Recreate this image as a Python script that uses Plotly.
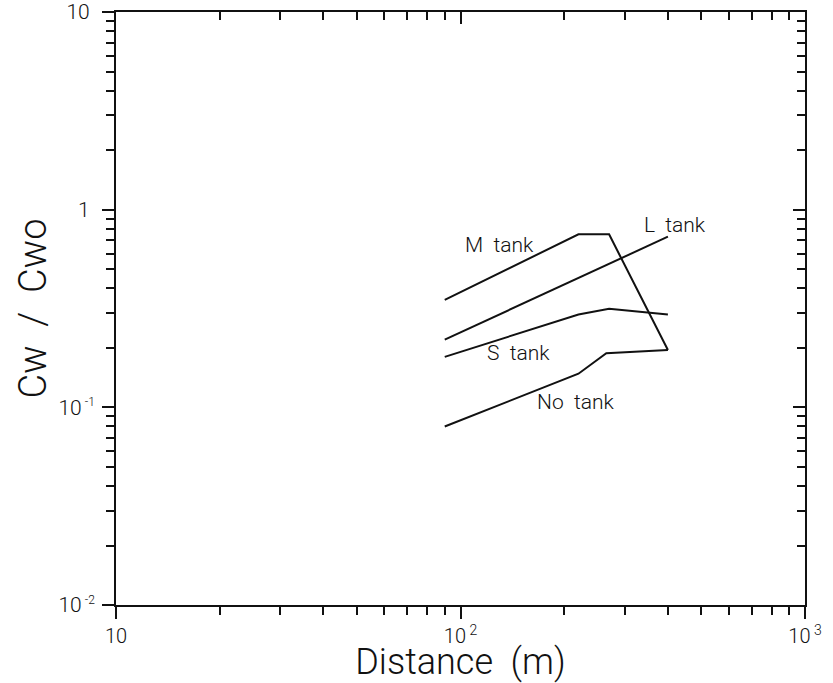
import math
import plotly.graph_objects as go

# Data (distance in m, Cw/Cwo)
m_x = [90, 220, 270, 400]
m_y = [0.35, 0.75, 0.75, 0.195]
l_x = [90, 400]
l_y = [0.22, 0.73]
s_x = [90, 220, 270, 400]
s_y = [0.18, 0.295, 0.315, 0.295]
n_x = [90, 220, 265, 400]
n_y = [0.08, 0.148, 0.188, 0.195]

labels = ["M\u00a0\u00a0tank", "L\u00a0\u00a0tank", "S\u00a0\u00a0tank", "No\u00a0\u00a0tank"]
label_x = [130, 420, 147, 215]
label_y = [0.66, 0.84, 0.188, 0.106]

SUP = "<sup><span style='font-size:12px'>\u00a0%s</span></sup>"
x_major = [10, 100, 1000]
x_major_text = ["10", "10<sup>\u00a02</sup>", "10<sup>\u00a03</sup>"]
y_major = [0.01, 0.1, 1, 10]
y_major_text = ["10" + SUP % "-2", "10" + SUP % "-1", "1\u00a0", "10\u00a0"]

x_minor = [m * 10 ** e for e in (1, 2) for m in range(2, 10)]
y_minor = [m * 10 ** e for e in (-2, -1, 0) for m in range(2, 10)]

FONT = "Roboto, Liberation Sans, Arial, sans-serif"
INK = "#111111"

fig = go.Figure()
for xs, ys in [(m_x, m_y), (l_x, l_y), (s_x, s_y), (n_x, n_y)]:
    fig.add_trace(go.Scatter(x=xs, y=ys, mode="lines",
                             line=dict(color=INK, width=2),
                             showlegend=False, hoverinfo="skip"))
# invisible trace for mirrored axes
fig.add_trace(go.Scatter(x=[10], y=[1], xaxis="x2", yaxis="y2", mode="markers",
                         marker=dict(opacity=0), showlegend=False, hoverinfo="skip"))

for t, x, y in zip(labels, label_x, label_y):
    fig.add_annotation(x=math.log10(x), y=math.log10(y), text=t, showarrow=False,
                       font=dict(size=21, color=INK, family=FONT, weight=300))

common = dict(showgrid=False, zeroline=False, showline=True, linecolor=INK,
              linewidth=2, tickcolor=INK, tickwidth=1.6, automargin=False)
minor_common = dict(tickcolor=INK, tickwidth=1.6, ticklen=8, showgrid=False)

fig.update_layout(
    width=833, height=683,
    margin=dict(l=116, r=28, t=12, b=78),
    paper_bgcolor="white", plot_bgcolor="white",
    font=dict(family=FONT, color=INK, weight=300),
    xaxis=dict(type="log", range=[1, 3], tickmode="array", tickvals=x_major,
               ticktext=x_major_text, ticks="outside", ticklen=12,
               ticklabeloverflow="allow",
               tickfont=dict(size=20, weight=300, color=INK),
               minor=dict(tickmode="array", tickvals=x_minor, ticks="outside", **minor_common),
               title=dict(text="Distance\u00a0\u00a0(m)", font=dict(size=36, weight=300), standoff=4),
               **common),
    yaxis=dict(type="log", range=[-2, 1], tickmode="array", tickvals=y_major,
               ticktext=y_major_text, ticks="outside", ticklen=12,
               ticklabelstandoff=3, ticklabeloverflow="allow",
               tickfont=dict(size=21, weight=300, color=INK),
               minor=dict(tickmode="array", tickvals=y_minor, ticks="outside", **minor_common),
               title=dict(text="Cw\u00a0\u00a0/\u00a0\u00a0Cwo", font=dict(size=38, weight=300), standoff=0),
               **common),
    xaxis2=dict(type="log", range=[1, 3], overlaying="x", side="top", anchor="y2",
                tickmode="array", tickvals=x_major, showticklabels=False,
                ticks="inside", ticklen=12,
                minor=dict(tickmode="array", tickvals=x_minor, ticks="inside", **minor_common),
                **common),
    yaxis2=dict(type="log", range=[-2, 1], overlaying="y", side="right", anchor="x2",
                tickmode="array", tickvals=y_major, showticklabels=False,
                ticks="inside", ticklen=12,
                minor=dict(tickmode="array", tickvals=y_minor, ticks="inside", **minor_common),
                **common),
)

fig.write_html("out.html")
